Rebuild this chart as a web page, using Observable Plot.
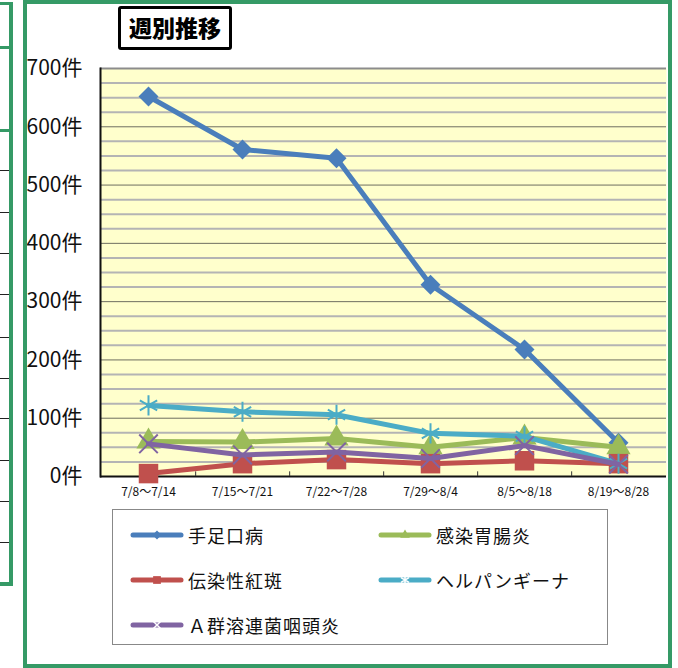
<!DOCTYPE html>
<html><head><meta charset="utf-8">
<script src="https://cdn.jsdelivr.net/npm/d3@7"></script>
<script src="https://cdn.jsdelivr.net/npm/@observablehq/plot@0.6"></script>
<style>
body{margin:0;background:#fff;font-family:"Noto Sans CJK JP",sans-serif;}
#wrap{position:relative;width:678px;height:668px;overflow:hidden;}
#chart{position:absolute;left:0;top:0;}
.g{position:absolute;background:#359a66;}
.k{position:absolute;background:#222;height:1px;left:0;width:9px;}
#title{position:absolute;left:118px;top:6px;width:114px;height:44px;box-sizing:border-box;border:3px solid #000;border-radius:3px;font-weight:900;font-size:23px;line-height:37px;text-align:center;background:#fff;letter-spacing:0px;}
#legend{position:absolute;left:112px;top:509px;width:496px;height:136px;box-sizing:border-box;border:1px solid #888;background:#fff;}
.item{position:absolute;display:flex;align-items:center;font-size:18px;letter-spacing:1px;color:#111;white-space:nowrap;}
.item svg{margin-right:4px;}
</style></head>
<body>
<div id="wrap">
  <div id="chart"></div>
  <!-- left partial panel -->
  <div class="g" style="left:9px;top:2px;width:4px;height:584px;"></div>
  <div class="g" style="left:0;top:2px;width:13px;height:3px;"></div>
  <div class="g" style="left:0;top:46px;width:13px;height:3px;"></div>
  <div class="g" style="left:0;top:129px;width:13px;height:3px;"></div>
  <div class="g" style="left:0;top:582px;width:13px;height:4px;"></div>
  <div class="k" style="top:170px"></div><div class="k" style="top:212px"></div>
  <div class="k" style="top:253px"></div><div class="k" style="top:294px"></div>
  <div class="k" style="top:337px"></div><div class="k" style="top:378px"></div>
  <div class="k" style="top:418px"></div><div class="k" style="top:460px"></div>
  <div class="k" style="top:501px"></div><div class="k" style="top:542px"></div>
  <!-- main frame -->
  <div style="position:absolute;left:23px;top:0px;width:649px;height:668px;box-sizing:border-box;border:4px solid #359a66;"></div>
  <div id="title">週別推移</div>
  <div id="legend"></div>
</div>
<script>
const categories = ["7/8〜7/14","7/15〜7/21","7/22〜7/28","7/29〜8/4","8/5〜8/18","8/19〜8/28"];
const seriesNames = ["手足口病","感染胃腸炎","伝染性紅斑","ヘルパンギーナ","Ａ群溶連菌咽頭炎"];
const handFootMouth = [652, 561, 546, 329, 218, 58];
const gastroenteritis = [60, 59, 65, 50, 67, 50];
const erythemaInfectiosum = [5, 22, 29, 22, 27, 22];
const herpangina = [122, 111, 106, 74, 69, 22];
const groupAStrep = [56, 37, 42, 31, 53, 21];
const yTicks = [0, 100, 200, 300, 400, 500, 600, 700];
const yMinor = [25,50,75,125,150,175,225,250,275,325,350,375,425,450,475,525,550,575,625,650,675];

const seriesValues = [handFootMouth, gastroenteritis, erythemaInfectiosum, herpangina, groupAStrep];
const colors = ["#4a7ebb","#9bbb59","#c0504d","#4bacc6","#8064a2"];
const symbols = ["diamond2","triangle","square","asterisk","times"];
const sizes = [9, 9, 11, 9.5, 8.5];
const filled = [true, true, true, false, false];

const rows = [];
seriesNames.forEach((s, i) => categories.forEach((c, j) => rows.push({series: s, cat: c, value: seriesValues[i][j], idx: i})));

const marginLeft = 100, marginRight = 12, W = 678;
const halfStep = (W - marginLeft - marginRight) / categories.length / 2;

const marks = [
  Plot.frame({fill: "#ffffcc", stroke: null}),
  Plot.gridY(yMinor, {stroke: "#b4b4b4", strokeOpacity: 1, strokeWidth: 2}),
  Plot.gridY(yTicks.slice(1, -1), {stroke: "#6e6e60", strokeOpacity: 1, strokeWidth: 1}),
  Plot.ruleY([700], {stroke: "#8c8c8c", strokeWidth: 2}),
  Plot.axisY(yTicks, {label: null, tickFormat: d => d + "件", tickSize: 5, tickPadding: 13, fontSize: 21, letterSpacing: "-1px", fill: "#111", stroke: null}),
  Plot.axisX({label: null, tickSize: 0, tickPadding: 11, fontSize: 12, fill: "#111"}),
  Plot.ruleY([0], {stroke: "#111", strokeWidth: 2}),
  Plot.frame({anchor: "left", stroke: "#111", strokeWidth: 2}),
  Plot.ruleX(categories.slice(0, -1), {x: d => d, dx: halfStep, y1: 0, y2: 8, stroke: "#333", strokeWidth: 1})
];
seriesNames.forEach((s, i) => {
  const d = rows.filter(r => r.series === s);
  marks.push(Plot.line(d, {x: "cat", y: "value", stroke: colors[i], strokeWidth: 5, strokeLinejoin: "round", strokeLinecap: "round"}));
  marks.push(Plot.dot(d, filled[i]
    ? {x: "cat", y: "value", symbol: symbols[i], r: sizes[i], fill: colors[i], stroke: null}
    : {x: "cat", y: "value", symbol: symbols[i], r: sizes[i], stroke: colors[i], strokeWidth: 2, fill: "none"}));
});

const chart = Plot.plot({
  width: W, height: 500,
  marginLeft, marginRight, marginTop: 68, marginBottom: 24,
  x: {type: "point", domain: categories, padding: 0.5, label: null},
  y: {domain: [0, 700], label: null},
  style: {fontFamily: "'Noto Sans CJK JP', sans-serif", background: "transparent", overflow: "visible"},
  marks
});
document.getElementById("chart").appendChild(chart);

// legend
const legend = document.getElementById("legend");
const pos = [[17, 24], [265, 24], [17, 69], [265, 69], [17, 114]];
const smallSizes = [50, 40, 60, 60, 50];
seriesNames.forEach((s, i) => {
  const div = document.createElement("div");
  div.className = "item";
  div.style.left = pos[i][0] + "px";
  div.style.top = (pos[i][1] - 12) + "px";
  const sym = {diamond2: d3.symbolDiamond2, triangle: d3.symbolTriangle, square: d3.symbolSquare, asterisk: d3.symbolAsterisk, times: d3.symbolTimes}[symbols[i]];
  const path = d3.symbol(sym, smallSizes[i])();
  const svgNS = "http://www.w3.org/2000/svg";
  const svg = document.createElementNS(svgNS, "svg");
  svg.setAttribute("width", 54); svg.setAttribute("height", 24);
  const line = document.createElementNS(svgNS, "line");
  line.setAttribute("x1", 3); line.setAttribute("x2", 51); line.setAttribute("y1", 12); line.setAttribute("y2", 12);
  line.setAttribute("stroke", colors[i]); line.setAttribute("stroke-width", 5); line.setAttribute("stroke-linecap", "round");
  svg.appendChild(line);
  const p = document.createElementNS(svgNS, "path");
  p.setAttribute("d", path); p.setAttribute("transform", "translate(27,12)");
  if (filled[i]) { p.setAttribute("fill", colors[i]); }
  else { p.setAttribute("fill", "none"); p.setAttribute("stroke", "#fff"); p.setAttribute("stroke-width", 1.5); }
  svg.appendChild(p);
  div.appendChild(svg);
  const t = document.createElement("span");
  t.textContent = s;
  div.appendChild(t);
  legend.appendChild(div);
});
</script>
</body></html>
